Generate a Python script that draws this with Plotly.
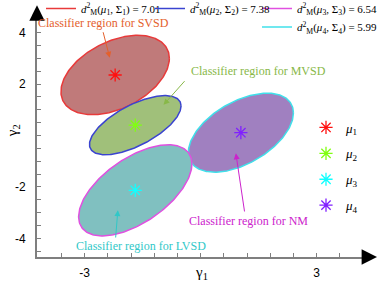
import numpy as np
import plotly.graph_objects as go

# ---------------- data ----------------
region_names = ["SVSD", "MVSD", "LVSD", "NM"]
mu_x = [-2.21, -1.69, -1.69, 1.04]
mu_y = [2.35, 0.40, -2.13, 0.11]
sigma_xx = [0.280, 0.190, 0.328, 0.308]
sigma_yy = [0.339, 0.179, 0.479, 0.393]
sigma_xy = [0.129, 0.120, 0.230, 0.174]
d2_thresholds = [7.01, 7.38, 6.54, 5.99]
mu_labels = ["<i>μ</i><sub>1</sub>", "<i>μ</i><sub>2</sub>", "<i>μ</i><sub>3</sub>", "<i>μ</i><sub>4</sub>"]
d2_labels = ["<i>d</i><sup>2</sup><sub>M</sub>(<i>μ</i><sub>%d</sub>, Σ<sub>%d</sub>) = %.2f" % (i + 1, i + 1, v)
             for i, v in enumerate(d2_thresholds)]

x_tick_vals = [-3.6, -3.0, -2.4, -1.8, -1.2, -0.6, 0.0, 0.6, 1.2, 1.8, 2.4, 3.0, 3.6, 4.2]
x_tick_text = ["", "-3", "", "", "", "", "", "", "", "", "", "3", "", ""]
y_tick_vals = [-4.5, -4.0, -3.5, -3.0, -2.5, -2.0, -1.5, -1.0, -0.5, 0.0,
               0.5, 1.0, 1.5, 2.0, 2.5, 3.0, 3.5, 4.0, 4.5]
y_tick_text = ["", "-4", "", "", "", "-2", "", "", "", "", "", "", "", "2", "", "", "", "4", ""]

# ---------------- styles ----------------
fill_colors = ["#c07a7a", "#a0c07a", "#80c0c0", "#a080c0"]
outline_colors = ["#e83a3a", "#3a44d0", "#e050e0", "#40e0ea"]
marker_colors = ["#ff1010", "#80ff10", "#10ffff", "#8020ff"]
SERIF = "Liberation Serif"
SANS = "Liberation Sans"

fig = go.Figure()


def ellipse(i, n=240):
    cov = np.array([[sigma_xx[i], sigma_xy[i]], [sigma_xy[i], sigma_yy[i]]])
    L = np.linalg.cholesky(cov)
    t = np.linspace(0, 2 * np.pi, n)
    pts = np.sqrt(d2_thresholds[i]) * (L @ np.vstack([np.cos(t), np.sin(t)]))
    return pts[0] + mu_x[i], pts[1] + mu_y[i]


draw_order = [0, 3, 2, 1]
legend_ids = ["legend", "legend2", "legend3", "legend4"]
for i in draw_order:
    ex, ey = ellipse(i)
    fig.add_trace(go.Scatter(x=ex, y=ey, mode="lines", fill="toself",
                             fillcolor=fill_colors[i], line=dict(width=0),
                             showlegend=False, hoverinfo="skip"))
    fig.add_trace(go.Scatter(x=ex, y=ey, mode="lines",
                             line=dict(color=outline_colors[i], width=1.5),
                             name=d2_labels[i], showlegend=True,
                             legend=legend_ids[i]))

for i in range(4):
    fig.add_trace(go.Scatter(x=[mu_x[i]], y=[mu_y[i]], mode="markers",
                             marker=dict(symbol="asterisk-open", size=11, color=marker_colors[i],
                                         line=dict(color=marker_colors[i], width=1.3)),
                             name=mu_labels[i], legend="legend5",
                             legendgroup="mu%d" % i, showlegend=True))

# axis arrow heads (paper-referenced, at the ends of the axis lines)
fig.add_annotation(x=1.032, y=0, xref="paper", yref="paper", ax=-14, ay=0, text="",
                   showarrow=True, arrowhead=2, arrowsize=1.4, arrowwidth=2.2, arrowcolor="black")
fig.add_annotation(x=0, y=1.036, xref="paper", yref="paper", ax=0, ay=14, text="",
                   showarrow=True, arrowhead=2, arrowsize=1.4, arrowwidth=2.2, arrowcolor="black")

# region labels with arrows
labels = [
    # text, text x, text y (data), arrow tail, arrow head, colour
    ("Classifier region for SVSD", -2.52, 4.36, (-2.53, 4.07), (-2.35, 3.02), "#e4602c"),
    ("Classifier region for MVSD", 1.49, 2.50, (-0.38, 2.17), (-0.96, 1.19), "#88b848"),
    ("Classifier region for NM", 1.23, -3.34, (1.14, -3.01), (0.91, -0.69), "#cc22cc"),
    ("Classifier region for LVSD", -1.53, -4.30, (-2.20, -4.02), (-2.14, -2.90), "#30c8c8"),
]
for text, tx, ty, tail, head, col in labels:
    fig.add_annotation(x=tx, y=ty, text=text, showarrow=False,
                       font=dict(family=SERIF, size=12, color=col))
    fig.add_annotation(x=head[0], y=head[1], ax=tail[0], ay=tail[1],
                       axref="x", ayref="y", text="", showarrow=True,
                       arrowhead=2, arrowsize=1.2, arrowwidth=1, arrowcolor=col)

# axis titles
fig.add_annotation(x=0.03, xref="x", y=-0.066, yref="paper", yanchor="middle", xanchor="center",
                   text="γ<sub>1</sub>", showarrow=False,
                   font=dict(family=SERIF, size=15, color="black"))
fig.add_annotation(x=-0.073, xref="paper", y=0.2, yref="y", xanchor="center", yanchor="middle",
                   text="γ<sub>2</sub>", showarrow=False,
                   textangle=-90, font=dict(family=SERIF, size=15, color="black"))

leg_common = dict(orientation="v", xref="container", yref="container",
                  bgcolor="rgba(0,0,0,0)", borderwidth=0,
                  font=dict(family=SERIF, size=11, color="black"))
fig.update_layout(
    width=378, height=283,
    margin=dict(l=37, r=11, t=14, b=26, autoexpand=False),
    paper_bgcolor="white", plot_bgcolor="white",
    xaxis=dict(range=[-4.23, 4.3], showgrid=False, zeroline=False,
               showline=True, linecolor="#7f7f7f", linewidth=2,
               ticks="inside", ticklen=4, tickwidth=1, tickcolor="#7f7f7f",
               tickvals=x_tick_vals, ticktext=x_tick_text, ticklabelstandoff=4,
               tickfont=dict(family=SANS, size=12, color="black")),
    yaxis=dict(range=[-4.72, 4.72], showgrid=False, zeroline=False,
               showline=True, linecolor="#7f7f7f", linewidth=2,
               ticks="inside", ticklen=4, tickwidth=1, tickcolor="#7f7f7f",
               tickvals=y_tick_vals, ticktext=y_tick_text, ticklabelstandoff=7,
               tickfont=dict(family=SANS, size=12, color="black")),
    legend=dict(x=41 / 378, y=1 - 8.5 / 283, xanchor="left", yanchor="middle", **leg_common),
    legend2=dict(x=150 / 378, y=1 - 8.5 / 283, xanchor="left", yanchor="middle", **leg_common),
    legend3=dict(x=257 / 378, y=1 - 8.5 / 283, xanchor="left", yanchor="middle", **leg_common),
    legend4=dict(x=257 / 378, y=1 - 27 / 283, xanchor="left", yanchor="middle", **leg_common),
    legend5=dict(x=306 / 378, y=1 - 112.5 / 283, xanchor="left", yanchor="top",
                 tracegroupgap=6, orientation="v", xref="container", yref="container",
                 bgcolor="rgba(0,0,0,0)", borderwidth=0,
                 font=dict(family=SERIF, size=13, color="black")),
)

fig.write_html("out.html", config={"displayModeBar": False},
               post_script="document.body.style.margin='0';document.body.style.padding='0';")
